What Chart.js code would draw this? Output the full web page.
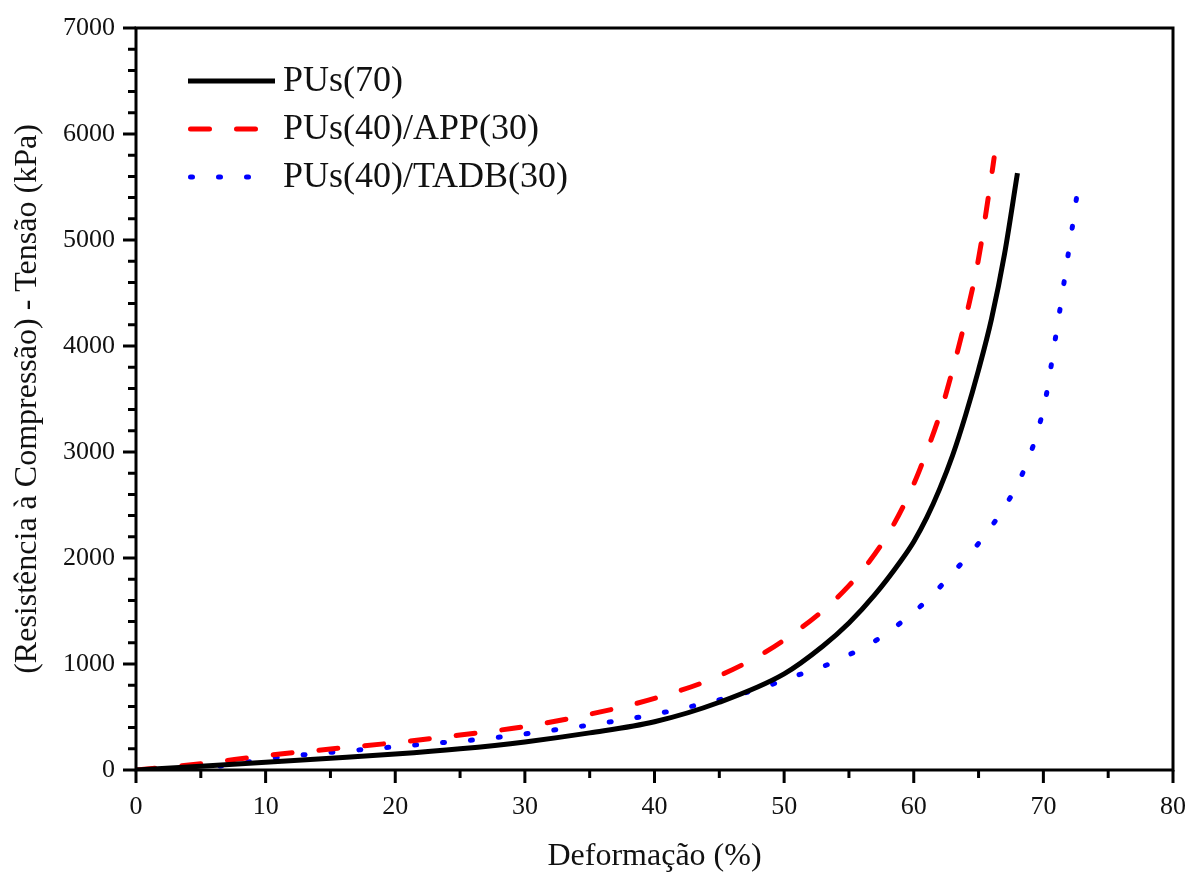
<!DOCTYPE html>
<html>
<head>
<meta charset="utf-8">
<title>Resistência à Compressão</title>
<script src="https://cdn.jsdelivr.net/npm/chart.js@4.4.1/dist/chart.umd.min.js"></script>
<style>
  html, body { margin: 0; padding: 0; background: #fff; }
</style>
</head>
<body>
<canvas id="grafico" width="1189" height="873"></canvas>
<script>
// dati (deformazione %, tensione kPa)
var pusX = [0, 5, 10, 15, 20, 25, 30, 35, 40, 45, 50, 53, 55, 57, 59, 60, 61, 62, 63, 64, 65, 66, 67, 68];
var pusY = [0, 35, 72, 110, 150, 200, 265, 350, 455, 639, 907, 1170, 1387, 1654, 1972, 2154, 2380, 2652, 2969, 3348, 3775, 4256, 4865, 5630];

var appX = [0, 5, 10, 15, 20, 25, 30, 35, 40, 45, 50, 55, 58, 60, 61, 62, 63, 64, 65, 66, 66.2];
var appY = [0, 60, 135, 198, 258, 330, 410, 526, 675, 889, 1226, 1739, 2222, 2698, 3006, 3349, 3776, 4258, 4825, 5606, 5776];

var tadbX = [0, 2.2, 4.3, 6.5, 8.6, 10.6, 14.9, 19.1, 23.3, 27.5, 31.7, 36, 40.1, 44.3, 46.4, 48.5, 50.6, 52.7, 54.8, 56.9, 59, 61.1, 63, 64.9,
             66.55, 67.85, 68.85, 69.56, 70.14, 70.51, 70.86, 71.2, 71.53, 71.86, 72.2, 72.5, 72.77];
var tadbY = [0, 0, 10, 38, 75, 113, 165, 210, 255, 302, 368, 443, 528, 642, 708, 783, 877, 962, 1075, 1208, 1390, 1610, 1858, 2123,
             2396, 2660, 2934, 3198, 3481, 3745, 4019, 4283, 4547, 4821, 5094, 5349, 5585];

var nomi = ['PUs(70)', 'PUs(40)/APP(30)', 'PUs(40)/TADB(30)'];
var xTicks = [0, 10, 20, 30, 40, 50, 60, 70, 80];
var yTicks = [0, 1000, 2000, 3000, 4000, 5000, 6000, 7000];

function punti(xs, ys) {
    return xs.map(function (x, i) { return { x: x, y: ys[i] }; });
}

var serif = "'Liberation Serif', 'Times New Roman', serif";

// cornice + tacche maggiori/minori
var tacche = {
    id: 'tacche',
    afterDatasetsDraw: function (chart) {
        var c = chart.ctx, a = chart.chartArea;
        var sx = chart.scales.x, sy = chart.scales.y;
        c.save();
        c.strokeStyle = '#000';
        c.lineWidth = 3;
        c.strokeRect(a.left, a.top, a.right - a.left, a.bottom - a.top);
        c.beginPath();
        for (var v = 0; v <= 80; v += 5) {
            var px = sx.getPixelForValue(v);
            var len = v % 10 === 0 ? 13 : 8;
            c.moveTo(px, a.bottom);
            c.lineTo(px, a.bottom + len);
        }
        for (var w = 0; w <= 7000; w += 200) {
            var py = sy.getPixelForValue(w);
            var l2 = w % 1000 === 0 ? 13 : 8;
            c.moveTo(a.left, py);
            c.lineTo(a.left - l2, py);
        }
        c.stroke();
        c.restore();
    }
};

// legenda dentro l'area del grafico
var legenda = {
    id: 'legenda',
    afterDraw: function (chart) {
        var c = chart.ctx;
        var x0 = 188, fine = [275, 258, 250], ys = [81, 129, 177];
        c.save();
        chart.data.datasets.forEach(function (ds, i) {
            var cap = ds.borderCapStyle || 'butt';
            var off = cap === 'round' ? ds.borderWidth / 2 : 0;
            c.beginPath();
            c.strokeStyle = ds.borderColor;
            c.lineWidth = ds.borderWidth;
            c.lineCap = cap;
            c.setLineDash(ds.borderDash || []);
            c.moveTo(x0 + off, ys[i]);
            c.lineTo(fine[i], ys[i]);
            c.stroke();
            c.setLineDash([]);
            c.fillStyle = '#111';
            c.font = '36px ' + serif;
            c.textBaseline = 'middle';
            c.textAlign = 'left';
            c.fillText(ds.label, 283, ys[i] + 1);
        });
        c.restore();
    }
};

var ctx = document.getElementById('grafico');
var chart = new Chart(ctx, {
    type: 'line',
    data: {
        datasets: [{
            label: nomi[0],
            data: punti(pusX, pusY),
            borderColor: '#000000',
            borderWidth: 5,
            pointRadius: 0,
            cubicInterpolationMode: 'monotone'
        }, {
            label: nomi[1],
            data: punti(appX, appY),
            borderColor: '#ff0000',
            borderWidth: 5,
            borderDash: [19, 27],
            borderCapStyle: 'round',
            pointRadius: 0,
            cubicInterpolationMode: 'monotone'
        }, {
            label: nomi[2],
            data: punti(tadbX, tadbY),
            borderColor: '#0000ff',
            borderWidth: 5,
            borderDash: [2, 26],
            borderCapStyle: 'round',
            pointRadius: 0,
            cubicInterpolationMode: 'monotone'
        }]
    },
    options: {
        responsive: false,
        animation: false,
        devicePixelRatio: 1,
        layout: { padding: { top: 28, right: 16, left: 0, bottom: 0 } },
        plugins: {
            legend: { display: false },
            tooltip: { enabled: false }
        },
        scales: {
            x: {
                type: 'linear',
                min: 0,
                max: 80,
                afterFit: function (s) {
                    s.height = 103;
                    s.paddingLeft = 0;
                    s.paddingRight = 0;
                },
                afterBuildTicks: function (s) { s.ticks = xTicks.map(function (v) { return { value: v }; }); },
                grid: { display: false, drawTicks: false },
                border: { display: false },
                ticks: {
                    padding: 22,
                    color: '#111',
                    font: { family: serif, size: 26 },
                    maxRotation: 0,
                    callback: function (v) { return String(v); }
                },
                title: {
                    display: true,
                    text: 'Deformação (%)',
                    color: '#111',
                    font: { family: serif, size: 32, lineHeight: 1 },
                    padding: { top: 0, bottom: 0 }
                }
            },
            y: {
                type: 'linear',
                min: 0,
                max: 7000,
                afterFit: function (s) {
                    s.width = 136;
                    s.paddingTop = 0;
                    s.paddingBottom = 0;
                },
                afterBuildTicks: function (s) { s.ticks = yTicks.map(function (v) { return { value: v }; }); },
                grid: { display: false, drawTicks: false },
                border: { display: false },
                ticks: {
                    padding: 21,
                    color: '#111',
                    font: { family: serif, size: 26 },
                    callback: function (v) { return String(v); }
                },
                title: {
                    display: true,
                    text: '(Resistência à Compressão) - Tensão (kPa)',
                    color: '#111',
                    font: { family: serif, size: 32, lineHeight: 1 },
                    padding: { top: 12, bottom: 0 }
                }
            }
        }
    },
    plugins: [tacche, legenda]
});
</script>
</body>
</html>
